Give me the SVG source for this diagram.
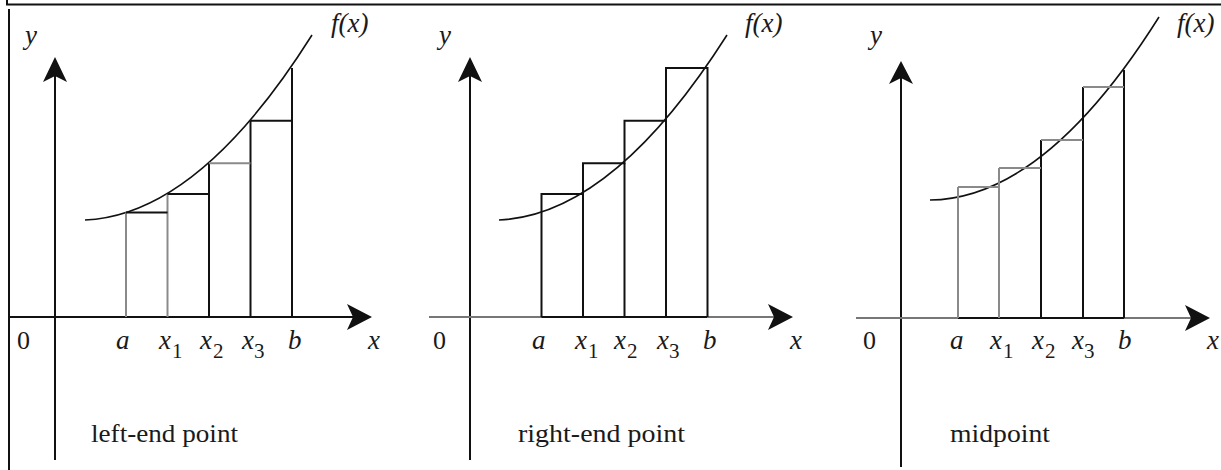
<svg xmlns="http://www.w3.org/2000/svg" width="1221" height="470" viewBox="0 0 1221 470">
<style>
.ax{stroke:#111;stroke-width:2;fill:none}
.axg{stroke:#777;stroke-width:2;fill:none}
.k{stroke:#111;stroke-width:2;fill:none}
.g{stroke:#8a8a8a;stroke-width:2;fill:none}
.cv{stroke:#111;stroke-width:1.6;fill:none}
.ah{fill:#111;stroke:none}
text{font-family:'Liberation Serif','DejaVu Serif',serif;fill:#1a1a1a}
.m{font-style:italic;font-size:27px}
.s{font-size:21px}
.n{font-size:26px}
.c{font-size:26px}
</style>
<rect width="1221" height="470" fill="#fff"/>
<g id="frame">
<path class="k" d="M7,0 V4.5 H1221"/>
<path class="k" d="M9,9 V470"/>
</g>

<g id="panel-left">
<path class="ax" d="M55,76 V460"/>
<path class="ah" d="M55,57 L67,82 L55,76 L43,82 Z"/>
<path class="ax" d="M9,317 H354"/>
<path class="ah" d="M372,317 L347,330 L353,317 L347,304 Z"/>
<path class="cv" d="M85,220 Q198.5,215.1 312,35"/>
<path class="g" d="M126,317 V212.6"/>
<path class="g" d="M167.5,317 V194"/>
<path class="k" d="M209,317 V163.3"/>
<path class="k" d="M250.5,317 V120.8"/>
<path class="k" d="M292,317 V68"/>
<path class="k" d="M126,212.6 H167.5"/>
<path class="k" d="M167.5,194 H209"/>
<path class="g" d="M209,163.3 H250.5"/>
<path class="k" d="M250.5,120.8 H292"/>
<text class="m" x="25" y="44">y</text>
<text class="m" x="331" y="32">f(x)</text>
<text class="n" x="17" y="349">0</text>
<text class="m" x="116" y="349">a</text>
<text class="m" x="159" y="349">x</text><text class="s" x="172" y="358">1</text>
<text class="m" x="200" y="349">x</text><text class="s" x="213" y="358">2</text>
<text class="m" x="242" y="349">x</text><text class="s" x="254" y="358">3</text>
<text class="m" x="288" y="349">b</text>
<text class="m" x="368" y="349">x</text>
<text class="c" x="91" y="442" textLength="147" lengthAdjust="spacingAndGlyphs">left-end point</text>
</g>

<g id="panel-right">
<path class="ax" d="M470,76 V460"/>
<path class="ah" d="M470,57 L482,82 L470,76 L458,82 Z"/>
<path class="axg" d="M429,317 H775"/>
<path class="k" d="M541.5,317 H707"/>
<path class="ah" d="M793,317 L768,330 L774,317 L768,304 Z"/>
<path class="cv" d="M499,220 Q612.5,215.1 727,35"/>
<path class="k" d="M541.5,317 V194 H583 V163.3 H624.5 V120.8 H666 V68 H707.5 V317"/>
<path class="k" d="M583,317 V194"/>
<path class="k" d="M624.5,317 V163.3"/>
<path class="k" d="M666,317 V120.8"/>
<text class="m" x="439" y="44">y</text>
<text class="m" x="745" y="32">f(x)</text>
<text class="n" x="433" y="349">0</text>
<text class="m" x="532" y="349">a</text>
<text class="m" x="575" y="349">x</text><text class="s" x="588" y="358">1</text>
<text class="m" x="614" y="349">x</text><text class="s" x="627" y="358">2</text>
<text class="m" x="657" y="349">x</text><text class="s" x="669" y="358">3</text>
<text class="m" x="703" y="349">b</text>
<text class="m" x="790" y="349">x</text>
<text class="c" x="518" y="442" textLength="167" lengthAdjust="spacingAndGlyphs">right-end point</text>
</g>

<g id="panel-mid">
<path class="ax" d="M901,78 V467"/>
<path class="ah" d="M901,61 L913,84 L901,78 L889,84 Z"/>
<path class="axg" d="M856,318 H1192"/>
<path class="k" d="M958,318 H1124"/>
<path class="ah" d="M1210,318 L1185,331 L1191,318 L1185,305 Z"/>
<path class="cv" d="M930,200 Q1044.5,198.9 1159,17"/>
<path class="g" d="M958,318 V187"/>
<path class="g" d="M999,318 V168"/>
<path class="k" d="M1041,318 V140"/>
<path class="k" d="M1083,318 V87"/>
<path class="k" d="M1124,318 V70"/>
<path class="g" d="M958,187 H999"/>
<path class="g" d="M999,168 H1041"/>
<path class="g" d="M1041,140 H1083"/>
<path class="g" d="M1083,87 H1124"/>
<text class="m" x="870" y="44">y</text>
<text class="m" x="1177" y="32">f(x)</text>
<text class="n" x="863" y="349">0</text>
<text class="m" x="950" y="349">a</text>
<text class="m" x="990" y="349">x</text><text class="s" x="1003" y="358">1</text>
<text class="m" x="1032" y="349">x</text><text class="s" x="1045" y="358">2</text>
<text class="m" x="1072" y="349">x</text><text class="s" x="1084" y="358">3</text>
<text class="m" x="1118" y="349">b</text>
<text class="m" x="1207" y="349">x</text>
<text class="c" x="950" y="442" textLength="100" lengthAdjust="spacingAndGlyphs">midpoint</text>
</g>
</svg>
